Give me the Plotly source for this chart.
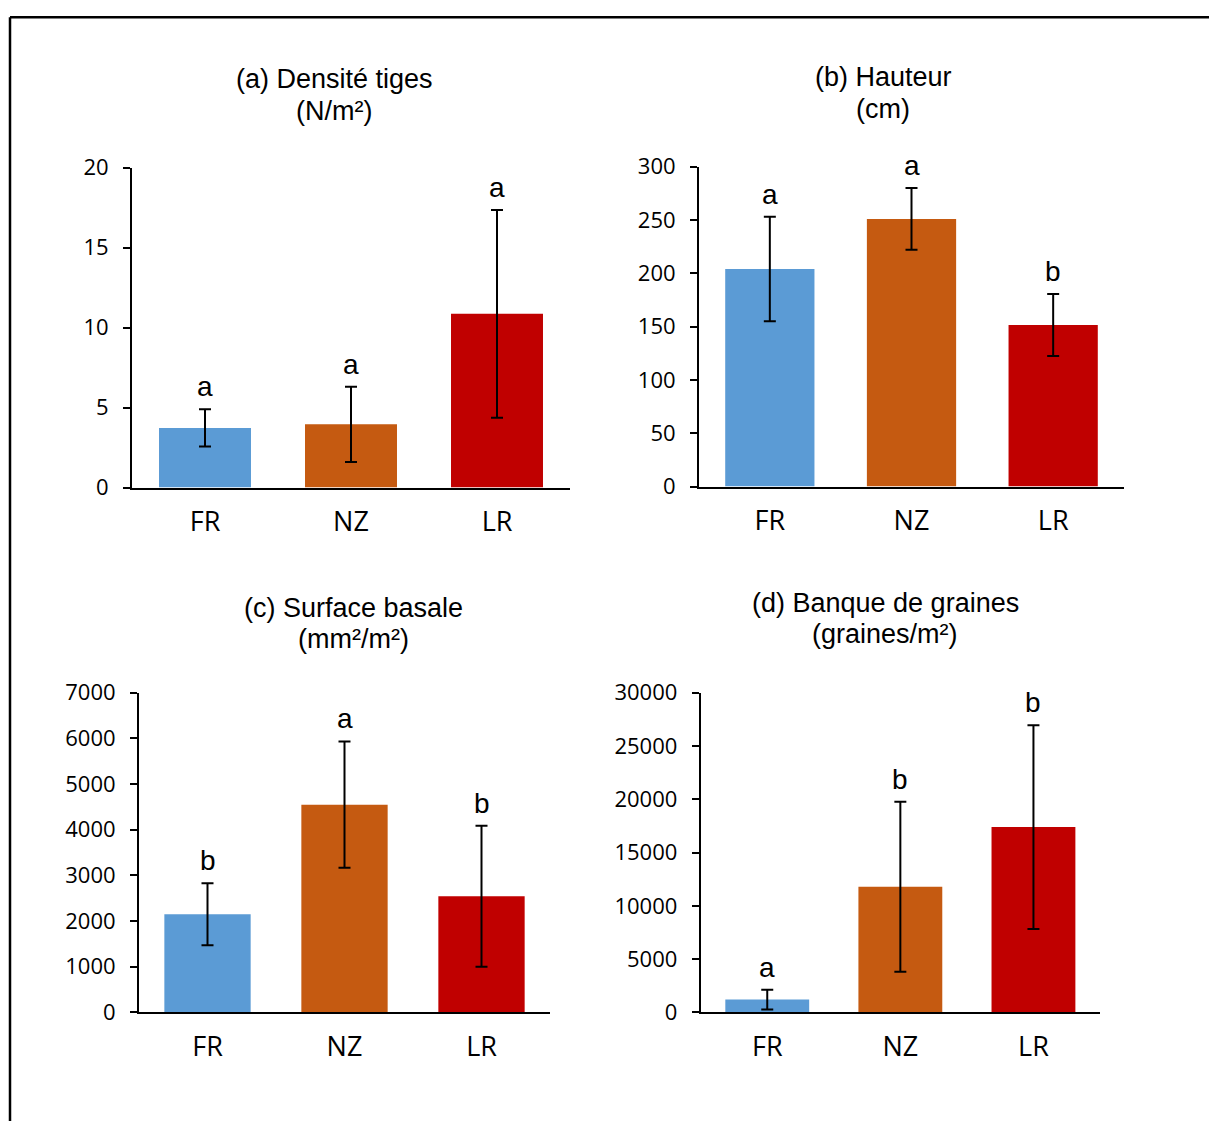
import plotly.graph_objects as go

W, H = 1209, 1140

categories = ["FR", "NZ", "LR"]
colors = ["#5B9BD5", "#C55A11", "#C00000"]

# (a) Densité tiges (N/m²)
dens_vals = [3.73, 3.95, 10.86]
dens_err = [1.17, 2.35, 6.5]
dens_letters = ["a", "a", "a"]

# (b) Hauteur (cm)
haut_vals = [204, 251, 151.5]
haut_err = [49, 29, 29]
haut_letters = ["a", "a", "b"]

# (c) Surface basale (mm²/m²)
surf_vals = [2150, 4550, 2545]
surf_err = [680, 1385, 1545]
surf_letters = ["b", "a", "b"]

# (d) Banque de graines (graines/m²)
banq_vals = [1200, 11800, 17390]
banq_err = [930, 7980, 9570]
banq_letters = ["a", "b", "b"]

titles = [("(a) Densité tiges", "(N/m²)"),
          ("(b) Hauteur", "(cm)"),
          ("(c) Surface basale", "(mm²/m²)"),
          ("(d) Banque de graines", "(graines/m²)")]

y_ranges = [(0, 20, 5), (0, 300, 50), (0, 7000, 1000), (0, 30000, 5000)]

panels = [(dens_vals, dens_err, dens_letters),
          (haut_vals, haut_err, haut_letters),
          (surf_vals, surf_err, surf_letters),
          (banq_vals, banq_err, banq_letters)]


def py(y):
    # screen-to-page vertical correction for the capture
    return (y - 15.3) / 0.974


# plot-area pixel boxes (left, right, top, bottom)
boxes = [(132, 570, 167, 487),
         (699, 1124, 166, 486),
         (139, 550, 692.3, 1012),
         (700.7, 1100, 692.3, 1012)]

# title line centers (x, y1, y2)
title_pos = [(334, 78, 110), (883, 76, 108), (353, 607, 639), (885, 602, 634)]

fig = go.Figure()
annotations = []
TICKFONT = "Open Sans"
TXTFONT = "Liberation Sans"

for i, ((vals, errs, letters), (l, r, t, b), (ymin, ymax, dt)) in enumerate(zip(panels, boxes, y_ranges)):
    n = i + 1
    xa = "x" if n == 1 else f"x{n}"
    ya = "y" if n == 1 else f"y{n}"
    fig.add_trace(go.Bar(
        x=categories, y=vals,
        marker=dict(color=colors, line=dict(width=0)),
        error_y=dict(type="data", array=errs, visible=True,
                     color="black", thickness=2, width=6),
        xaxis=xa, yaxis=ya, showlegend=False,
    ))
    for c, v, e, L in zip(categories, vals, errs, letters):
        annotations.append(dict(
            x=c, y=v + e, xref=xa, yref=ya, text=L, showarrow=False,
            yanchor="bottom", yshift=5,
            font=dict(family=TXTFONT, size=28, color="black"),
        ))
    xkey = "xaxis" if n == 1 else f"xaxis{n}"
    ykey = "yaxis" if n == 1 else f"yaxis{n}"
    fig.update_layout(**{
        xkey: dict(domain=[l / W, r / W], anchor=ya,
                   showline=True, linecolor="black", linewidth=2,
                   showgrid=False, zeroline=False, ticks="",
                   tickfont=dict(family=TICKFONT, size=27, color="black"),
                   ticklabelstandoff=9, fixedrange=True),
        ykey: dict(domain=[1 - py(b) / H, 1 - py(t) / H], anchor=xa,
                   range=[ymin, ymax], tick0=0, dtick=dt, tickformat="d",
                   showline=True, linecolor="black", linewidth=2,
                   showgrid=False, zeroline=False,
                   ticks="outside", ticklen=7, tickwidth=2, tickcolor="black",
                   tickfont=dict(family=TICKFONT, size=22, color="black"),
                   ticklabelstandoff=10, fixedrange=True),
    })

for (t1, t2), (tx, ty1, ty2) in zip(titles, title_pos):
    for txt, ty in ((t1, ty1), (t2, ty2)):
        annotations.append(dict(
            x=tx / W, y=1 - py(ty) / H, xref="paper", yref="paper",
            text=txt, showarrow=False, xanchor="center", yanchor="middle",
            font=dict(family=TXTFONT, size=27, color="black"),
        ))

top_y = max(py(12), 1.3)
shapes = [
    dict(type="line", xref="paper", yref="paper",
         x0=10 / W, x1=1.0, y0=1 - top_y / H, y1=1 - top_y / H,
         line=dict(color="black", width=2.5)),
    dict(type="line", xref="paper", yref="paper",
         x0=10 / W, x1=10 / W, y0=1 - top_y / H, y1=0,
         line=dict(color="black", width=2.5)),
]

fig.update_layout(
    width=W, height=H,
    margin=dict(l=0, r=0, t=0, b=0),
    paper_bgcolor="white", plot_bgcolor="white",
    bargap=0.37,
    annotations=annotations, shapes=shapes,
    showlegend=False,
)

post = (
    "document.documentElement.style.margin='0';"
    "document.documentElement.style.padding='0';"
    "document.documentElement.style.overflow='hidden';"
    "document.body.style.margin='0';"
    "document.body.style.padding='0';"
    "document.body.style.overflow='hidden';"
    "var gd=document.getElementById('{plot_id}');"
    "gd.style.position='fixed';gd.style.top='0px';gd.style.left='0px';"
)

fig.write_html("out.html", config={"displayModeBar": False}, post_script=post)
